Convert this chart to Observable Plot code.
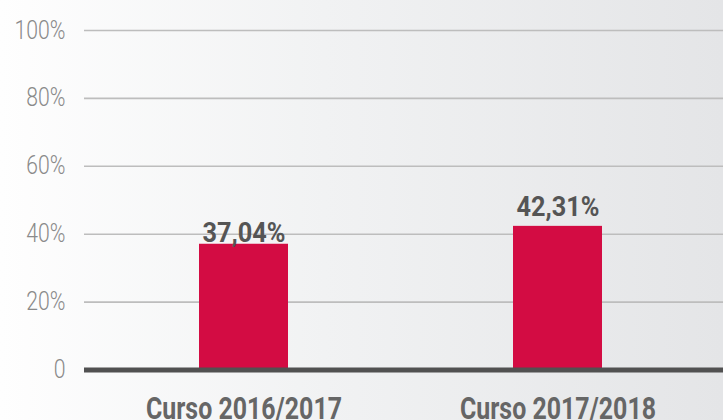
<!DOCTYPE html>
<html>
<head>
<meta charset="utf-8">
<script src="https://cdn.jsdelivr.net/npm/d3@7"></script>
<script src="https://cdn.jsdelivr.net/npm/@observablehq/plot@0.6"></script>
<style>
  html, body { margin: 0; padding: 0; width: 723px; height: 420px; overflow: hidden;
    background: linear-gradient(to right, #fefefe 0%, #f1f2f3 45%, #e4e5e7 100%); }
  svg { background: transparent !important; display: block; }
</style>
</head>
<body>
<div id="chart"></div>
<script>
const categories = ["Curso 2016/2017", "Curso 2017/2018"];
const values = [37.04, 42.31];
const valueLabels = ["37,04%", "42,31%"];
const yTicks = [0, 20, 40, 60, 80, 100];
const gridTicks = [20, 40, 60, 80, 100];

const data = categories.map((c, i) => ({cat: c, value: values[i], label: valueLabels[i]}));
const font = "Roboto, 'Liberation Sans', sans-serif";
const labelStyle = {x: "cat", y: "value", text: "label", lineAnchor: "bottom",
  fontSize: 28, fontWeight: "bold", fill: "#555555", fontFamily: font, className: "vlab"};

const chart = Plot.plot({
  width: 723,
  height: 420,
  marginLeft: 78,
  marginRight: 0,
  marginTop: 30,
  marginBottom: 50.5,
  style: {background: "transparent", fontFamily: font, overflow: "visible"},
  x: {domain: categories, paddingInner: 0.717, paddingOuter: 0.385, axis: null},
  y: {domain: [0, 100], axis: null},
  marks: [
    Plot.ruleY(gridTicks, {stroke: "#bdbdbd", strokeWidth: 1.6, insetLeft: 6}),
    Plot.axisY(yTicks, {
      tickSize: 0, tickPadding: 13, fontSize: 25, fill: "#8a8a8a", label: null,
      tickFormat: d => d === 0 ? "0" : d + "%", fontFamily: font, fontWeight: 300
    }),
    Plot.barY(data, {x: "cat", y: "value", fill: "#d30c43"}),
    Plot.ruleY([0], {stroke: "#515151", strokeWidth: 5, insetLeft: 6}),
    Plot.text(data, Plot.filter((d, i) => i === 0, {...labelStyle, dy: -2})),
    Plot.text(data, Plot.filter((d, i) => i === 1, {...labelStyle, dy: -10})),
    Plot.axisX({
      tickSize: 0, tickPadding: 27, fontSize: 31, fontWeight: "bold", fill: "#666666",
      fontFamily: font, label: null
    })
  ]
});
document.getElementById("chart").appendChild(chart);

// condense glyphs horizontally to mimic the narrow typeface of the reference
function condense(nodes, refIndex, targetWidth) {
  nodes = Array.from(nodes);
  if (!nodes.length) return;
  const ref = nodes[Math.min(refIndex, nodes.length - 1)];
  const w = ref.getComputedTextLength();
  if (!w) return;
  const f = targetWidth / w;
  nodes.forEach(n => {
    const nw = n.getComputedTextLength();
    n.setAttribute("textLength", (nw * f).toFixed(2));
    n.setAttribute("lengthAdjust", "spacingAndGlyphs");
  });
}
condense(chart.querySelectorAll('g[aria-label="y-axis tick label"] text'), 5, 51);
condense(chart.querySelectorAll('g[aria-label="x-axis tick label"] text'), 0, 196);
condense(chart.querySelectorAll('g.vlab text'), 0, 83);
</script>
</body>
</html>
